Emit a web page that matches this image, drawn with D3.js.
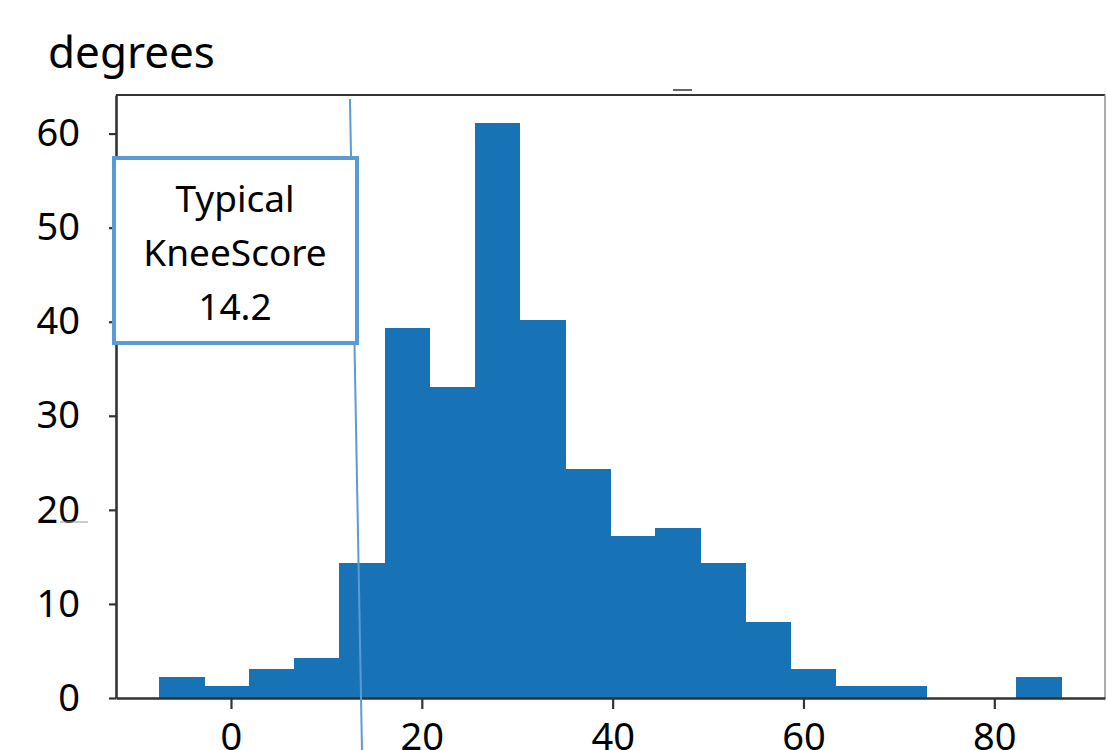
<!DOCTYPE html>
<html>
<head>
<meta charset="utf-8">
<script src="https://cdn.jsdelivr.net/npm/d3@7"></script>
<style>
  body { margin: 0; background: #fff; }
  svg { display: block; font-family: "Noto Sans", "Open Sans", sans-serif; }
</style>
</head>
<body>
<svg id="chart" width="1106" height="750"></svg>
<script>
// histogram bins (degrees) and counts
const binStart = -7.55;
const binWidth = 4.73;
const counts = [2.2, 1.3, 3.1, 4.3, 14.3, 39.3, 33.1, 61.1, 40.2, 24.3,
                17.2, 18.1, 14.3, 8.1, 3.1, 1.3, 1.3, 0, 0, 2.2];
const xTicks = [0, 20, 40, 60, 80];
const yTicks = [0, 10, 20, 30, 40, 50, 60];
const axisTitle = 'degrees';
const noteLines = ['Typical', 'KneeScore', '14.2'];
// the hand-drawn marker line is slightly tilted: degrees at its top and bottom end
const markerTop = 12.47;
const markerBottom = 13.73;

const svg = d3.select('#chart');
const plotLeft = 116, plotRight = 1105, plotTop = 95, plotBottom = 698;

const xScale = d3.scaleLinear().domain([-12.05, 91.6]).range([plotLeft, plotRight]);
const yScale = d3.scaleLinear().domain([0, 64.1]).range([plotBottom, plotTop]);

const bins = counts.map((c, i) => ({ x0: binStart + i * binWidth, x1: binStart + (i + 1) * binWidth, n: c }));

// bars
svg.append('g')
  .attr('shape-rendering', 'crispEdges')
  .selectAll('rect')
  .data(bins.filter(d => d.n > 0))
  .join('rect')
  .attr('x', d => xScale(d.x0))
  .attr('y', d => yScale(d.n))
  .attr('width', d => xScale(d.x1) - xScale(d.x0) + 0.5)
  .attr('height', d => yScale(0) - yScale(d.n))
  .attr('fill', '#1772b6');

// frame
svg.append('line').attr('x1', plotLeft).attr('x2', plotRight).attr('y1', plotTop).attr('y2', plotTop)
  .attr('stroke', '#333').attr('stroke-width', 2.2);
svg.append('line').attr('x1', plotRight).attr('x2', plotRight).attr('y1', plotTop).attr('y2', plotBottom)
  .attr('stroke', '#888').attr('stroke-width', 1.4);

// axes
const axisY = d3.axisLeft(yScale).tickValues(yTicks).tickSize(7).tickPadding(29).tickSizeOuter(0);
const axisX = d3.axisBottom(xScale).tickValues(xTicks).tickSize(11).tickPadding(14).tickSizeOuter(0);

const gy = svg.append('g').attr('transform', 'translate(' + plotLeft + ',0)').call(axisY);
const gx = svg.append('g').attr('transform', 'translate(0,' + plotBottom + ')').call(axisX);

[gx, gy].forEach(g => {
  g.select('.domain').attr('stroke', '#333').attr('stroke-width', 2.6);
  g.selectAll('.tick line').attr('stroke', '#333').attr('stroke-width', 2.2);
  g.selectAll('.tick text').attr('fill', '#000').style('font-size', '38px')
    .style('font-family', '"Noto Sans", "Open Sans", sans-serif');
});

// title
svg.append('text').attr('x', 48).attr('y', 68).text(axisTitle)
  .style('font-size', '44px').attr('fill', '#000');

// slanted marker line for the knee score
svg.append('line')
  .attr('x1', xScale(markerTop)).attr('y1', 99)
  .attr('x2', xScale(markerBottom)).attr('y2', 750)
  .attr('stroke', '#5b9bd5').attr('stroke-width', 2);

// note box
const note = svg.append('g');
note.append('rect').attr('x', 114).attr('y', 158).attr('width', 243).attr('height', 185)
  .attr('fill', '#fff').attr('stroke', '#5b9bd5').attr('stroke-width', 4);
note.selectAll('text')
  .data(noteLines)
  .join('text')
  .attr('x', 235)
  .attr('y', (d, i) => 212 + i * 54)
  .attr('text-anchor', 'middle')
  .style('font-size', '37px')
  .attr('fill', '#000')
  .text(d => d);

// small stray marks
svg.append('line').attr('x1', 673).attr('x2', 692).attr('y1', 90).attr('y2', 90)
  .attr('stroke', '#333').attr('stroke-width', 1.5);
svg.append('line').attr('x1', 60).attr('x2', 88).attr('y1', 522).attr('y2', 522)
  .attr('stroke', '#999').attr('stroke-width', 1);
</script>
</body>
</html>
